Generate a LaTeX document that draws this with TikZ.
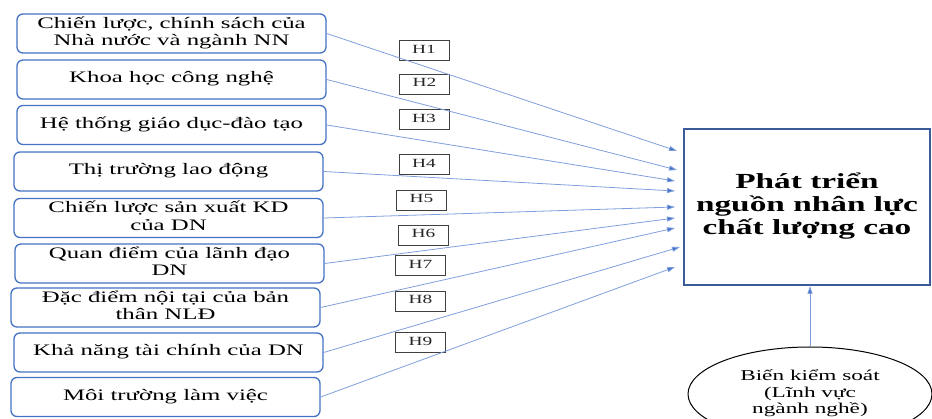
\documentclass[tikz,border=0pt]{standalone}
\usepackage{fontspec}
\usepackage{graphicx}
\setmainfont{Liberation Serif}
\usetikzlibrary{arrows.meta,shapes.geometric}
\definecolor{boxblue}{HTML}{4472C4}
\definecolor{lineblue}{HTML}{7F9FDC}
\definecolor{goalblue}{HTML}{3A5A9A}
\newcommand\wtxt[2][1.55]{\scalebox{#1}[1]{\begin{tabular}{@{}c@{}}#2\end{tabular}}}
\tikzset{
  factor/.style={draw=boxblue, line width=1.3pt, rounded corners=6pt, minimum width=309pt, minimum height=39pt, inner sep=0pt, font=\fontsize{16}{17.5}\selectfont, text=black},
  hbox/.style={draw=black!75, line width=0.7pt, minimum width=50pt, minimum height=20pt, inner sep=0pt, font=\fontsize{12.5}{13}\selectfont, text=black!85},
  conn/.style={draw=lineblue, line width=0.8pt, -{Triangle[length=8pt,width=5pt,fill=boxblue]}},
  goalbox/.style={draw=goalblue, line width=2pt, minimum width=246pt, minimum height=156pt, inner sep=0pt, font=\bfseries\fontsize{21.5}{23}\selectfont},
  ctrl/.style={ellipse, draw=black, line width=1pt, minimum width=244pt, minimum height=94pt, inner sep=0pt, font=\fontsize{15}{16.5}\selectfont}
}
\begin{document}
\begin{tikzpicture}[x=1pt,y=-1pt]
\useasboundingbox (0,0) rectangle (932,419);
% factors
\node[factor] (b1) at (171.5,33.5) {\wtxt{Chiến lược, chính sách của\\Nhà nước và ngành NN}};
\node[factor] (b2) at (171.5,79.5) {\wtxt{Khoa học công nghệ}};
\node[factor] (b3) at (171.5,125) {\wtxt{Hệ thống giáo dục-đào tạo}};
\node[factor] (b4) at (168.5,171.5) {\wtxt{Thị trường lao động}};
\node[factor] (b5) at (168.5,218) {\wtxt{Chiến lược sản xuất KD\\của DN}};
\node[factor] (b6) at (169.5,263.5) {\wtxt{Quan điểm của lãnh đạo\\DN}};
\node[factor] (b7) at (165.5,307.5) {\wtxt{Đặc điểm nội tại của bản\\thân NLĐ}};
\node[factor] (b8) at (168.5,352.5) {\wtxt{Khả năng tài chính của DN}};
\node[factor] (b9) at (165.5,397) {\wtxt{Môi trường làm việc}};
% hypothesis labels
\node[hbox] (h1) at (424,50.5) {\wtxt{H1}};
\node[hbox] (h2) at (424.5,84) {\wtxt{H2}};
\node[hbox] (h3) at (424,119.5) {\wtxt{H3}};
\node[hbox] (h4) at (424,164.5) {\wtxt{H4}};
\node[hbox] (h5) at (421.5,200) {\wtxt{H5}};
\node[hbox] (h6) at (423.5,235) {\wtxt{H6}};
\node[hbox] (h7) at (420.5,265.5) {\wtxt{H7}};
\node[hbox] (h8) at (420.5,301) {\wtxt{H8}};
\node[hbox] (h9) at (420.5,342.5) {\wtxt{H9}};
% goal
\node[goalbox] (goal) at (807,207) {\wtxt[1.55]{Phát triển\\nguồn nhân lực\\chất lượng cao}};
% control
\node[ctrl] (ctl) at (810,394) {\wtxt[1.55]{Biến kiểm soát\\(Lĩnh vực\\ngành nghề)}};
% arrow ends
\coordinate (t1) at (677,151);
\coordinate (t2) at (677,170);
\coordinate (t3) at (675,181);
\coordinate (t4) at (675,191);
\coordinate (t5) at (675,207);
\coordinate (t6) at (675,218);
\coordinate (t7) at (675,228);
\coordinate (t8) at (680,247);
\coordinate (t9) at (675,267);
\draw[conn] (b1.east) -- (t1);
\draw[conn] (b2.east) -- (t2);
\draw[conn] (b3.east) -- (t3);
\draw[conn] (b4.east) -- (t4);
\draw[conn] (b5.east) -- (t5);
\draw[conn] (b6.east) -- (t6);
\draw[conn] (b7.east) -- (t7);
\draw[conn] (b8.east) -- (t8);
\draw[conn] (b9.east) -- (t9);
\draw[conn] (ctl.north) -- (ctl.north |- goal.south);
\end{tikzpicture}
\end{document}
